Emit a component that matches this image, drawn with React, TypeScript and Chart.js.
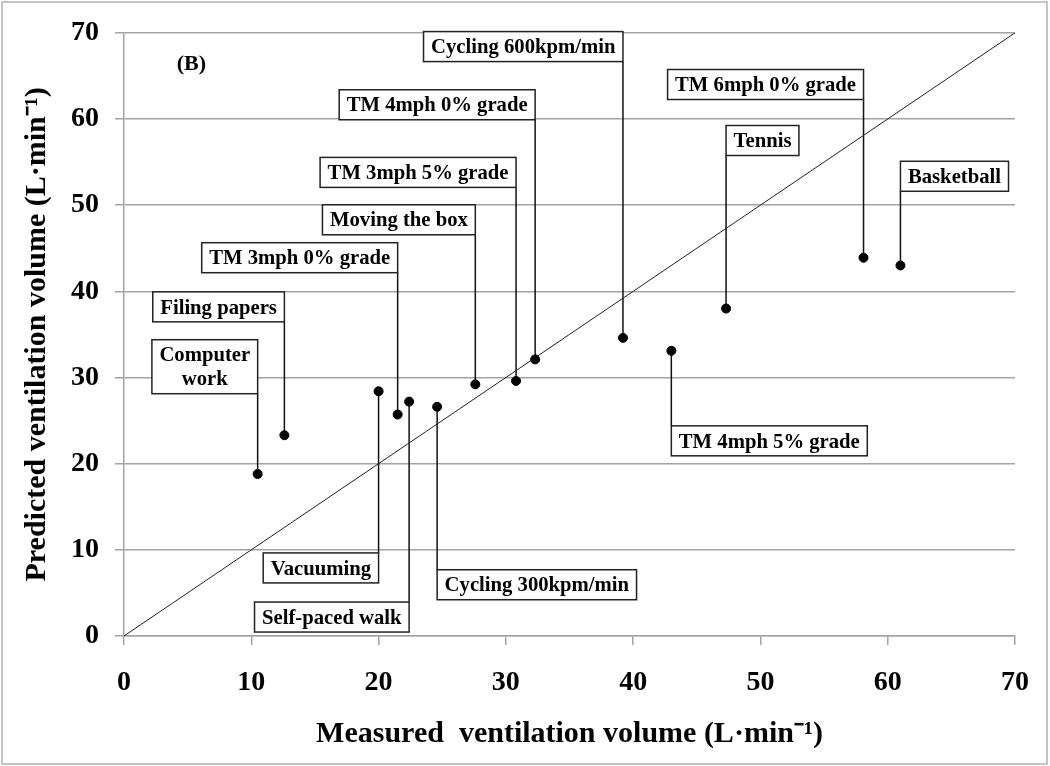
import React, { useEffect, useRef } from 'react';
import { Chart, registerables } from 'chart.js';

Chart.register(...registerables);

// ---- data ----
const activities = [
  'Computer\nwork',
  'Filing papers',
  'Vacuuming',
  'TM 3mph 0% grade',
  'Self-paced walk',
  'Cycling 300kpm/min',
  'Moving the box',
  'TM 3mph 5% grade',
  'TM 4mph 0% grade',
  'Cycling 600kpm/min',
  'TM 4mph 5% grade',
  'Tennis',
  'TM 6mph 0% grade',
  'Basketball',
];
const measured = [10.5, 12.6, 20.0, 21.5, 22.4, 24.6, 27.6, 30.8, 32.3, 39.2, 43.0, 47.3, 58.1, 61.0];
const predicted = [18.8, 23.3, 28.4, 25.7, 27.2, 26.6, 29.2, 29.6, 32.1, 34.6, 33.1, 38.0, 43.9, 43.0];
// which side of the label box the leader line leaves from
const labelSide = ['right', 'right', 'right', 'right', 'right', 'left', 'right', 'right', 'right', 'right', 'left', 'left', 'right', 'left'];
// vertical centre of each label box, in y-axis units
const labelLevel = [31.25, 38.2, 7.9, 43.9, 2.2, 5.95, 48.3, 53.8, 61.65, 68.4, 22.65, 57.5, 64.0, 53.35];
const identityLine = [0, 70];
const axisMin = 0;
const axisMax = 70;
const axisStep = 10;
const panelTag = '(B)';
const panelTagAt = [5.3, 66.3];
const xTitle = 'Measured  ventilation volume (L·min⁻¹)';
const yTitle = 'Predicted ventilation volume (L·min⁻¹)';

const FONT = "'Liberation Serif', 'Times New Roman', serif";
const GRID = '#a3a3a3';
const SQUEEZE = 0.94;

const labelPlugin = {
  id: 'activityLabels',
  beforeDatasetsDraw(chart: any) {
    const { ctx, scales } = chart;
    const xs = scales.x;
    const ys = scales.y;
    ctx.save();
    ctx.strokeStyle = '#111';
    ctx.lineWidth = 1.5;
    activities.forEach((name, i) => {
      const lines = name.split('\n');
      const h = lines.length * 24 + 6;
      const px = xs.getPixelForValue(measured[i]);
      const py = ys.getPixelForValue(predicted[i]);
      const cy = ys.getPixelForValue(labelLevel[i]);
      const edge = cy < py ? cy + h / 2 : cy - h / 2;
      ctx.beginPath();
      ctx.moveTo(px, edge);
      ctx.lineTo(px, py);
      ctx.stroke();
    });
    ctx.restore();
  },
  afterDatasetsDraw(chart: any) {
    const { ctx, scales } = chart;
    const xs = scales.x;
    const ys = scales.y;
    ctx.save();
    ctx.font = `bold 22px ${FONT}`;
    ctx.textAlign = 'center';
    ctx.textBaseline = 'middle';
    activities.forEach((name, i) => {
      const lines = name.split('\n');
      const tw = Math.max(...lines.map((l) => ctx.measureText(l).width)) * SQUEEZE;
      const w = tw + 15;
      const h = lines.length * 24 + 6;
      const px = xs.getPixelForValue(measured[i]);
      const cy = ys.getPixelForValue(labelLevel[i]);
      const bx = labelSide[i] === 'right' ? px - w : px;
      const by = cy - h / 2;
      ctx.fillStyle = '#fff';
      ctx.fillRect(bx, by, w, h);
      ctx.strokeStyle = '#222';
      ctx.lineWidth = 1.5;
      ctx.strokeRect(bx, by, w, h);
      ctx.fillStyle = '#000';
      lines.forEach((l, k) => {
        ctx.save();
        ctx.translate(bx + w / 2, by + 3 + 12 + k * 24 + 1);
        ctx.scale(SQUEEZE, 1);
        ctx.fillText(l, 0, 0);
        ctx.restore();
      });
    });
    // panel tag
    ctx.font = `bold 22px ${FONT}`;
    ctx.fillText(panelTag, xs.getPixelForValue(panelTagAt[0]), ys.getPixelForValue(panelTagAt[1]));
    ctx.restore();
  },
  afterDraw(chart: any) {
    const { ctx } = chart;
    ctx.save();
    ctx.strokeStyle = '#c4c4c4';
    ctx.lineWidth = 2;
    ctx.strokeRect(2, 2, chart.width - 5, chart.height - 4);
    ctx.restore();
  },
};

export default function App() {
  const canvasRef = useRef<HTMLCanvasElement | null>(null);

  useEffect(() => {
    const canvas = canvasRef.current;
    if (!canvas) return;
    const chart = new Chart(canvas, {
      type: 'scatter',
      data: {
        datasets: [
          {
            type: 'line',
            data: identityLine.map((v) => ({ x: v, y: v })),
            borderColor: '#222',
            borderWidth: 1,
            pointRadius: 0,
            fill: false,
            order: 2,
          } as any,
          {
            type: 'scatter',
            data: measured.map((m, i) => ({ x: m, y: predicted[i] })),
            backgroundColor: '#000',
            borderColor: '#000',
            pointRadius: 4.5,
            order: 1,
          },
        ],
      },
      options: {
        responsive: false,
        animation: false,
        devicePixelRatio: 1,
        layout: { padding: { top: 26, right: 34, left: 0, bottom: 0 } },
        plugins: {
          legend: { display: false },
          tooltip: { enabled: false },
        },
        scales: {
          x: {
            type: 'linear',
            min: axisMin,
            max: axisMax,
            ticks: {
              stepSize: axisStep,
              color: '#000',
              padding: 21,
              font: { family: FONT, weight: 'bold', size: 28 },
            },
            grid: {
              display: true,
              drawOnChartArea: false,
              drawTicks: true,
              tickLength: 9,
              color: GRID,
              lineWidth: 1.5,
            },
            border: { display: true, color: GRID, width: 1.5 },
            title: {
              display: true,
              text: xTitle,
              color: '#000',
              font: { family: FONT, weight: 'bold', size: 30 },
              padding: { top: 0, bottom: 14 },
            },
            afterFit: (s: any) => {
              s.height = 130;
            },
          },
          y: {
            type: 'linear',
            min: axisMin,
            max: axisMax,
            ticks: {
              stepSize: axisStep,
              color: '#000',
              padding: 16,
              font: { family: FONT, weight: 'bold', size: 28 },
            },
            grid: {
              display: true,
              drawOnChartArea: true,
              drawTicks: true,
              tickLength: 9,
              color: GRID,
              lineWidth: 1.5,
            },
            border: { display: true, color: GRID, width: 1.5 },
            title: {
              display: true,
              text: yTitle,
              color: '#000',
              font: { family: FONT, weight: 'bold', size: 30 },
              padding: { top: 19, bottom: 0 },
            },
            afterFit: (s: any) => {
              s.width = 124;
            },
          },
        },
      },
      plugins: [labelPlugin],
    });
    return () => chart.destroy();
  }, []);

  return (
    <div style={{ position: 'absolute', left: 0, top: 0, width: 1050, height: 766, background: '#fff' }}>
      <canvas ref={canvasRef} width={1050} height={766} />
    </div>
  );
}
